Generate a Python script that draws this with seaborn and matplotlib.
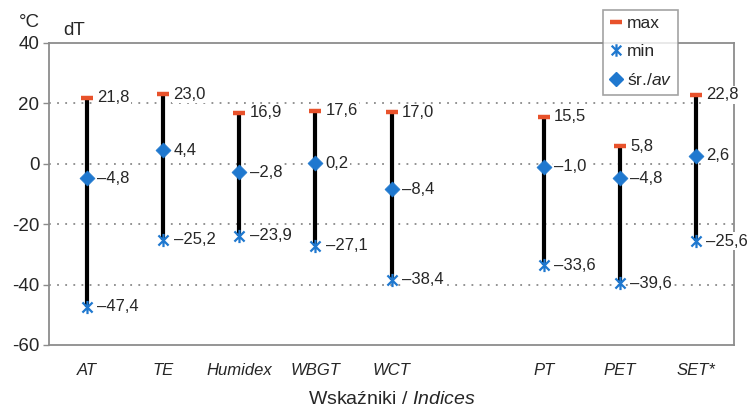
import numpy as np
import pandas as pd
import matplotlib
matplotlib.use("Agg")
import matplotlib.pyplot as plt
from matplotlib.path import Path
from matplotlib.lines import Line2D
import seaborn as sns

# Thermal index ranges (dT, °C)
indices = ["AT", "TE", "Humidex", "WBGT", "WCT", "", "PT", "PET", "SET*"]
t_max = [21.8, 23.0, 16.9, 17.6, 17.0, np.nan, 15.5, 5.8, 22.8]
t_min = [-47.4, -25.2, -23.9, -27.1, -38.4, np.nan, -33.6, -39.6, -25.6]
t_avg = [-4.8, 4.4, -2.8, 0.2, -8.4, np.nan, -1.0, -4.8, 2.6]
y_ticks = [40, 20, 0, -20, -40, -60]

sns.set_theme(style="white")
plt.rcParams["font.family"] = ["Liberation Sans", "DejaVu Sans"]
plt.rcParams["mathtext.fontset"] = "custom"
plt.rcParams["mathtext.it"] = "Liberation Sans:italic"
plt.rcParams["mathtext.rm"] = "Liberation Sans"

df = pd.DataFrame({"idx": indices, "max": t_max, "min": t_min, "avg": t_avg})
df["pos"] = np.arange(len(df))
d = df.dropna()

RED = "#E8522B"
BLUE = "#1F78CF"
GRID = "#8a8a8a"
FRAME = "#8c8c8c"
TEXT = "#262626"

# Excel-style star: X with a vertical bar
star = Path([(-1, -1), (1, 1), (-1, 1), (1, -1), (0, -1.3), (0, 1.3)],
            [Path.MOVETO, Path.LINETO, Path.MOVETO, Path.LINETO, Path.MOVETO, Path.LINETO])

fig = plt.figure(figsize=(7.5, 4.17), dpi=100)
ax = fig.add_axes([0.0653, 0.1727, 0.9134, 0.7243])

for yv in [20, 0, -20, -40]:
    ax.axhline(yv, color=GRID, lw=1.3, ls=(0, (1, 3.5)), zorder=0)

ax.vlines(d["pos"], d["min"], d["max"], color="black", lw=3.0, zorder=2)

sns.scatterplot(data=d, x="pos", y="max", ax=ax, marker="_", s=70,
                linewidth=3.2, color=RED, zorder=3, legend=False)
sns.scatterplot(data=d, x="pos", y="min", ax=ax, marker=star, s=90,
                linewidth=1.6, color=BLUE, edgecolor=BLUE, zorder=3, legend=False)
sns.scatterplot(data=d, x="pos", y="avg", ax=ax, marker="D", s=58,
                color=BLUE, edgecolor=BLUE, linewidth=0.5, zorder=4, legend=False)

def fmt(v):
    s = f"{abs(v):.1f}".replace(".", ",")
    return ("\u2013" + s) if v < 0 else s

for _, r in d.iterrows():
    for col in ["max", "min", "avg"]:
        ax.annotate(fmt(r[col]), (r["pos"], r[col]), xytext=(7.5, 0),
                    textcoords="offset points", ha="left", va="center",
                    fontsize=12, color=TEXT, zorder=5,
                    bbox=dict(boxstyle="square,pad=0.08", fc="white", ec="none"))

ax.set_xlim(-0.5, len(indices) - 0.5)
ax.set_ylim(-60, 40)
ax.set_yticks(y_ticks)
ax.set_yticklabels([str(v) for v in y_ticks], fontsize=13.5, color=TEXT)
ax.set_xticks(df["pos"])
ax.set_xticklabels(indices, fontsize=12, style="italic", color=TEXT)
ax.tick_params(axis="y", length=4, width=1, color=FRAME, pad=3, left=True)
ax.tick_params(axis="x", length=0, pad=13)
ax.set_xlabel(r"Wskaźniki / $\it{Indices}$", fontsize=14, labelpad=9, color=TEXT)
ax.set_ylabel("")
for sp in ax.spines.values():
    sp.set_color(FRAME)
    sp.set_linewidth(1.3)

fig.text(0.025, 0.945, "°C", fontsize=13.5, ha="left", va="center", color=TEXT)
fig.text(0.085, 0.927, "dT", fontsize=13.5, ha="left", va="center", color=TEXT)

# legend
handles = [
    Line2D([], [], ls="none", marker="_", ms=8, mew=3.2, color=RED),
    Line2D([], [], ls="none", marker=star, ms=9, mew=1.6, color=BLUE),
    Line2D([], [], ls="none", marker="D", ms=7.5, color=BLUE),
]
leg = ax.legend(handles, ["max", "min", r"śr./$\it{av}$"], loc="upper left",
                bbox_to_anchor=(0.809, 1.109), frameon=True, fancybox=False,
                fontsize=12.5, handlelength=0.8, handletextpad=0.2,
                borderpad=0.35, labelspacing=0.75, borderaxespad=0)
for t in leg.get_texts():
    t.set_color(TEXT)
leg.get_frame().set_edgecolor(FRAME)
leg.get_frame().set_linewidth(1.2)
leg.set_zorder(10)

fig.savefig("out.png", dpi=100, facecolor="white")
